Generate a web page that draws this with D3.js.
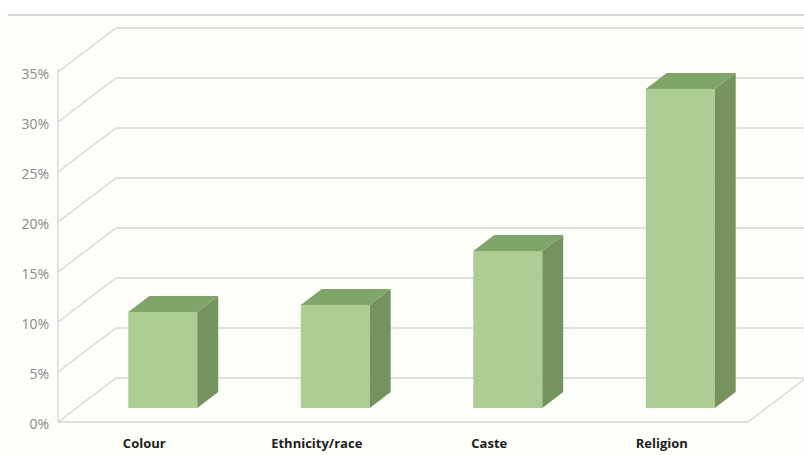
<!DOCTYPE html>
<html>
<head>
<meta charset="utf-8">
<script src="https://cdn.jsdelivr.net/npm/d3@7/dist/d3.min.js"></script>
<style>
  html, body { margin: 0; padding: 0; background: #ffffff; }
  svg { display: block; }
</style>
</head>
<body>
<svg id="chart" width="804" height="455"></svg>
<script>
// Share of respondents by ground of discrimination
const categories = ["Colour", "Ethnicity/race", "Caste", "Religion"];
const shares = [0.096, 0.103, 0.157, 0.319];
const tickValues = [0, 0.05, 0.10, 0.15, 0.20, 0.25, 0.30, 0.35];

const W = 804, H = 455;
const svg = d3.select("#chart");

// Front plane of the 3D box
const left = 58, right = 748, floorY = 422, topY = 72;
// Offset of the back wall relative to the front plane
const depthX = 58, depthY = -44;
// Bars occupy the middle slice of the depth
const d0 = 0.32, d1 = 0.68;

const x = d3.scaleBand().domain(categories).range([left, right]).paddingInner(0).paddingOuter(0);
const y = d3.scaleLinear().domain([0, 0.35]).range([floorY, topY]);

const proj = (px, py, d) => [px + depthX * d, py + depthY * d];

// Background panel and top rule
svg.append("rect").attr("x", 0).attr("y", 0).attr("width", W).attr("height", H).attr("fill", "#fdfdf9");
svg.append("rect").attr("x", 0).attr("y", 0).attr("width", W).attr("height", 14).attr("fill", "#ffffff");
svg.append("line").attr("x1", 8).attr("x2", W).attr("y1", 15).attr("y2", 15)
  .attr("stroke", "#d6d6d6").attr("stroke-width", 2);

const grid = svg.append("g").attr("fill", "none").attr("stroke", "#d6d6d6").attr("stroke-width", 1.3);

// Back wall gridlines and side-wall diagonals
tickValues.forEach(t => {
  const [bx, by] = proj(left, y(t), 1);
  grid.append("line").attr("x1", bx).attr("y1", by).attr("x2", W + 10).attr("y2", by);
  grid.append("line").attr("x1", left).attr("y1", y(t)).attr("x2", bx).attr("y2", by);
});

// Front vertical axis line
grid.append("line").attr("x1", left).attr("x2", left).attr("y1", y(0.35) - 3).attr("y2", y(0));

// Floor outline
const [frx, fry] = proj(right, floorY, 1);
grid.append("line").attr("x1", left).attr("y1", floorY).attr("x2", right).attr("y2", floorY);
grid.append("line").attr("x1", right).attr("y1", floorY).attr("x2", frx).attr("y2", fry);

// Bars as 3D boxes
const barW = x.bandwidth() * 0.4;
const bars = svg.append("g");
categories.forEach((c, i) => {
  const cx = x(c) + x.bandwidth() / 2;
  const x0 = cx - barW / 2, x1 = cx + barW / 2;
  const yb = y(0), yt = y(shares[i]);
  const P = (px, py, d) => proj(px, py, d).join(",");
  // front face
  bars.append("polygon")
    .attr("points", [P(x0, yt, d0), P(x1, yt, d0), P(x1, yb, d0), P(x0, yb, d0)].join(" "))
    .attr("fill", "#aecd94");
  // side face
  bars.append("polygon")
    .attr("points", [P(x1, yt, d0), P(x1, yt, d1), P(x1, yb, d1), P(x1, yb, d0)].join(" "))
    .attr("fill", "#76925f");
  // top face
  bars.append("polygon")
    .attr("points", [P(x0, yt, d0), P(x0, yt, d1), P(x1, yt, d1), P(x1, yt, d0)].join(" "))
    .attr("fill", "#80a56b");
});

// Value axis labels
const yAxis = svg.append("g")
  .attr("transform", `translate(${left - 9},2)`)
  .call(d3.axisLeft(y).tickValues(tickValues).tickFormat(d3.format(".0%")).tickSize(0).tickPadding(0));
yAxis.select(".domain").remove();
yAxis.selectAll("text")
  .attr("fill", "#8a8a8a")
  .style("font-family", "'Open Sans', sans-serif")
  .style("font-size", "14px");

// Category labels
const xAxis = svg.append("g")
  .attr("transform", `translate(0,${floorY + 17})`)
  .call(d3.axisBottom(x).tickSize(0).tickPadding(0));
xAxis.select(".domain").remove();
xAxis.selectAll("text")
  .attr("fill", "#222222")
  .style("font-family", "'Open Sans', sans-serif")
  .style("font-weight", "bold")
  .style("font-size", "13px");
</script>
</body>
</html>
